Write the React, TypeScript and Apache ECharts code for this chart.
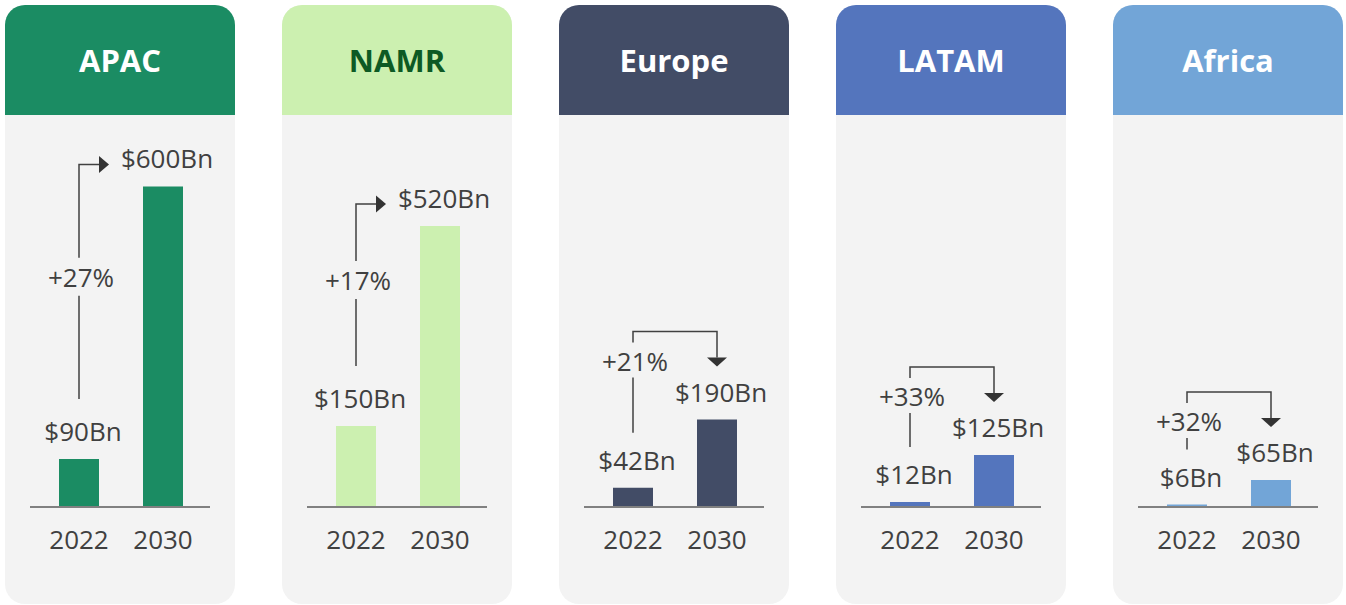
import React, { useEffect, useRef } from "react";
import * as echarts from "echarts";

const regions = ["APAC", "NAMR", "Europe", "LATAM", "Africa"];
const years = ["2022", "2030"];
const values2022 = [90, 150, 42, 12, 6];
const values2030 = [600, 520, 190, 125, 65];
const growthLabels = ["+27%", "+17%", "+21%", "+33%", "+32%"];
const arrowKinds = ["right", "right", "down", "down", "down"];
const axisMax = [715, 707, 830, 918, 920];
const regionColors = ["#1b8c63", "#ccf0b0", "#424c66", "#5475bd", "#72a5d7"];
const headerTextColors = ["#ffffff", "#0d5a24", "#ffffff", "#ffffff", "#ffffff"];

const W = 1346;
const H = 605;
const PANEL_X0 = 5;
const PANEL_STEP = 277;
const PANEL_W = 230;
const FONT = '"Open Sans", "Noto Sans", sans-serif';
const TEXT = "#404040";

export default function App() {
  const ref = useRef<HTMLDivElement>(null);

  useEffect(() => {
    if (!ref.current) return;
    const chart = echarts.init(ref.current, undefined, { renderer: "svg" });

    const grids: any[] = [];
    const xAxes: any[] = [];
    const yAxes: any[] = [];
    const series: any[] = [];
    regions.forEach((r, i) => {
      const x0 = PANEL_X0 + i * PANEL_STEP;
      grids.push({ left: x0 + 32, width: 168, top: 125, bottom: 98 });
      xAxes.push({
        type: "category",
        gridIndex: i,
        data: years,
        z: 10,
        axisLine: { show: false },
        axisTick: { show: false },
        axisLabel: { fontSize: 26, color: TEXT, margin: 19, fontFamily: FONT },
      });
      yAxes.push({ type: "value", gridIndex: i, min: 0, max: axisMax[i], show: false, splitLine: { show: false } });
      series.push({
        type: "bar",
        name: r,
        xAxisIndex: i,
        yAxisIndex: i,
        barWidth: 40,
        z: 5,
        data: [values2022[i], values2030[i]],
        itemStyle: { color: regionColors[i] },
        label: {
          show: true,
          position: "top",
          distance: 15,
          offset: [4, 0],
          fontSize: 26,
          fontFamily: FONT,
          color: TEXT,
          formatter: (p: any) => `$${p.value}Bn`,
        },
      });
    });

    chart.setOption({
      animation: false,
      backgroundColor: "#ffffff",
      grid: grids,
      xAxis: xAxes,
      yAxis: yAxes,
      series,
    });

    const elements: any[] = [];
    const lineStyle = { stroke: TEXT, lineWidth: 1.5, fill: null };
    regions.forEach((r, i) => {
      const x0 = PANEL_X0 + i * PANEL_STEP;
      elements.push({
        type: "rect",
        z: 0,
        shape: { x: x0, y: 5, width: PANEL_W, height: 599, r: 20 },
        style: { fill: "#f3f3f3" },
      });
      elements.push({
        type: "rect",
        z: 1,
        shape: { x: x0, y: 5, width: PANEL_W, height: 110, r: [20, 20, 0, 0] },
        style: { fill: regionColors[i] },
      });
      elements.push({
        type: "text",
        z: 2,
        style: {
          text: r,
          x: x0 + PANEL_W / 2,
          y: 60,
          fill: headerTextColors[i],
          fontSize: 31,
          fontWeight: "bold",
          fontFamily: FONT,
          align: "center",
          verticalAlign: "middle",
          textAlign: "center",
          textVerticalAlign: "middle",
        },
      });
      const p22 = chart.convertToPixel({ gridIndex: i }, [years[0], values2022[i]]) as number[];
      const p30 = chart.convertToPixel({ gridIndex: i }, [years[1], values2030[i]]) as number[];
      const base = chart.convertToPixel({ gridIndex: i }, [years[0], 0]) as number[];
      elements.push({
        type: "line",
        z: 6,
        shape: { x1: x0 + 25, y1: base[1], x2: x0 + 205, y2: base[1] },
        style: { stroke: "#808080", lineWidth: 2 },
      });
      const x1 = p22[0];
      const x2 = p30[0];
      const top22 = p22[1];
      const top30 = p30[1];
      let pctY: number;
      if (arrowKinds[i] === "right") {
        const yBottom = top22 - 60;
        const yTop = top30 - 22;
        pctY = (yTop + yBottom) / 2 - 5;
        const tipX = x2 + 4 - 46 - 12;
        elements.push({ type: "line", z: 6, shape: { x1, y1: yBottom, x2: x1, y2: pctY + 19 }, style: lineStyle });
        elements.push({
          type: "polyline",
          z: 6,
          shape: { points: [[x1, pctY - 19], [x1, yTop], [tipX - 10, yTop]] },
          style: lineStyle,
        });
        elements.push({
          type: "polygon",
          z: 6,
          shape: { points: [[tipX - 10, yTop - 8.5], [tipX, yTop], [tipX - 10, yTop + 8.5]] },
          style: { fill: "#333333" },
        });
      } else {
        const yTop = top30 - 88;
        const tipY = top30 - 53;
        pctY = top30 - 59;
        const yBottom = top22 - 55;
        elements.push({ type: "line", z: 6, shape: { x1, y1: yBottom, x2: x1, y2: pctY + 17 }, style: lineStyle });
        elements.push({
          type: "polyline",
          z: 6,
          shape: { points: [[x1, pctY - 18], [x1, yTop], [x2, yTop], [x2, tipY - 9]] },
          style: lineStyle,
        });
        elements.push({
          type: "polygon",
          z: 6,
          shape: { points: [[x2 - 10, tipY - 9], [x2 + 10, tipY - 9], [x2, tipY]] },
          style: { fill: "#333333" },
        });
      }
      elements.push({
        type: "text",
        z: 6,
        style: {
          text: growthLabels[i],
          x: x1 + 2,
          y: pctY,
          fill: TEXT,
          fontSize: 26,
          fontFamily: FONT,
          align: "center",
          verticalAlign: "middle",
          textAlign: "center",
          textVerticalAlign: "middle",
        },
      });
    });

    chart.setOption({ graphic: { elements } });

    return () => chart.dispose();
  }, []);

  return <div ref={ref} style={{ position: "fixed", left: 0, top: 0, width: W, height: H }} />;
}
